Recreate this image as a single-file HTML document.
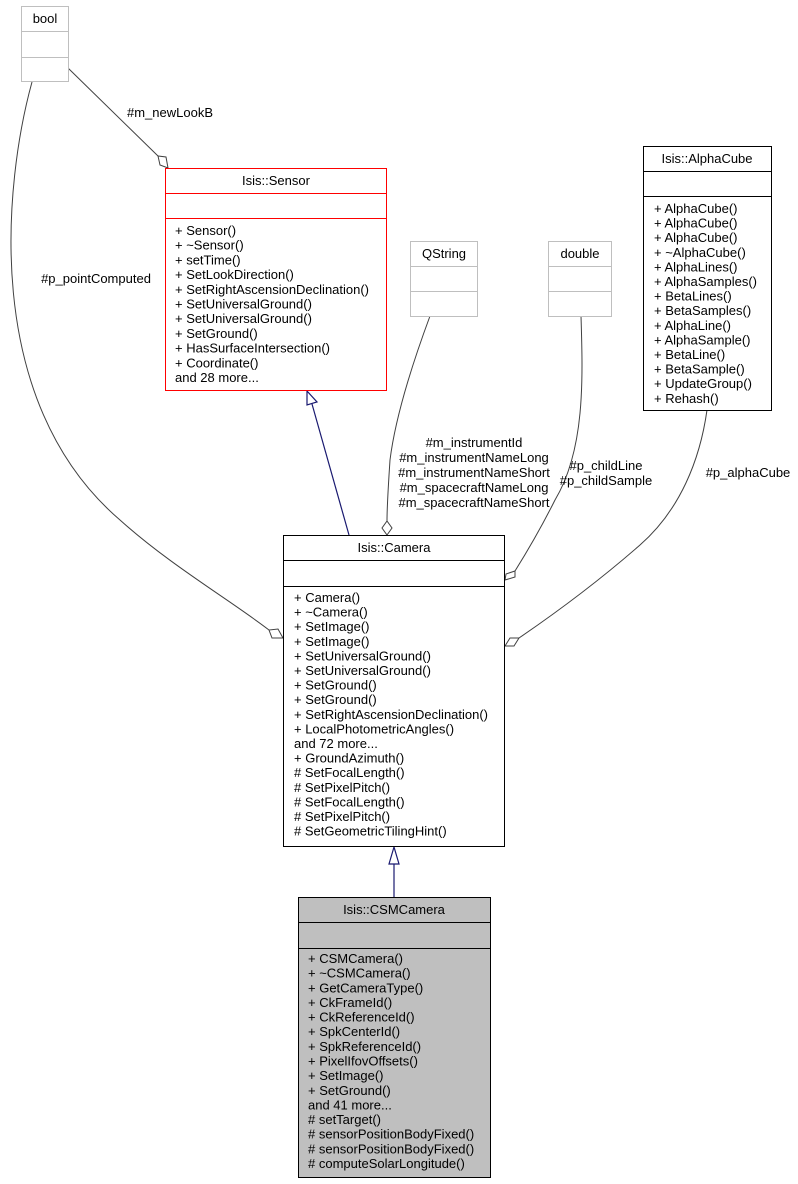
<!DOCTYPE html>
<html><head><meta charset="utf-8"><style>
html,body{margin:0;padding:0;background:#fff}
svg{display:block}
text{font-family:"Liberation Sans",Arial,sans-serif;font-size:13px;fill:#000}
</style></head><body>
<svg width="798" height="1184" viewBox="0 0 798 1184" xmlns="http://www.w3.org/2000/svg">
<!-- edges -->
<g fill="none" stroke="#404040" stroke-width="1">
<path d="M68,68 L158,156"/>
<path d="M32,82 C5,180 -20,400 120,520 C170,565 230,600 269,630"/>
<path d="M430,316 C410,370 395,420 390,460 C388,490 387,505 387,521"/>
<path d="M581,316 C583,380 585,450 555,500 C540,530 525,555 515,571"/>
<path d="M707,410 C700,460 680,510 640,545 C600,580 560,610 519,638"/>
</g>
<g fill="#fff" stroke="#404040" stroke-width="1">
<polygon points="168,168 166,157 158,156 160,165"/>
<polygon points="283,638 278,629 269,630 272,638"/>
<polygon points="387,535 392,528 387,521 382,528"/>
<polygon points="505,580 515,577 515,571 506,574"/>
<polygon points="505,646 514,646 519,638 510,638"/>
</g>
<g stroke="#191970" stroke-width="1.2" fill="none">
<path d="M349,535 L312,404"/>
<path d="M394,897 L394,864"/>
</g>
<g stroke="#191970" stroke-width="1.2" fill="#fff">
<polygon points="307,391 317,402 307,405"/>
<polygon points="394,847 389,864 399,864"/>
</g>
<!-- labels -->
<text x="170" y="117" text-anchor="middle">#m_newLookB</text>
<text x="96" y="283" text-anchor="middle">#p_pointComputed</text>
<g text-anchor="middle">
<text x="474" y="447">#m_instrumentId</text>
<text x="474" y="462">#m_instrumentNameLong</text>
<text x="474" y="477">#m_instrumentNameShort</text>
<text x="474" y="492">#m_spacecraftNameLong</text>
<text x="474" y="507">#m_spacecraftNameShort</text>
<text x="606" y="470">#p_childLine</text>
<text x="606" y="485">#p_childSample</text>
<text x="748" y="477">#p_alphaCube</text>
</g>
<!-- bool -->
<g stroke="#bfbfbf" fill="#fff"><rect x="21.5" y="6.5" width="47" height="75"/><path d="M21.5,31.5H68.5M21.5,57.5H68.5"/></g>
<text x="45" y="23" text-anchor="middle">bool</text>
<!-- QString -->
<g stroke="#bfbfbf" fill="#fff"><rect x="410.5" y="241.5" width="67" height="75"/><path d="M410.5,266.5H477.5M410.5,291.5H477.5"/></g>
<text x="444" y="258" text-anchor="middle">QString</text>
<!-- double -->
<g stroke="#bfbfbf" fill="#fff"><rect x="548.5" y="241.5" width="63" height="75"/><path d="M548.5,266.5H611.5M548.5,291.5H611.5"/></g>
<text x="580" y="258" text-anchor="middle">double</text>
<!-- Sensor -->
<g stroke="#ff0000" fill="#fff"><rect x="165.5" y="168.5" width="221" height="222"/><path d="M165.5,193.5H386.5M165.5,218.5H386.5"/></g>
<text x="276" y="185" text-anchor="middle">Isis::Sensor</text>
<g>
<text x="175" y="235">+ Sensor()</text>
<text x="175" y="249.7">+ ~Sensor()</text>
<text x="175" y="264.4">+ setTime()</text>
<text x="175" y="279.1">+ SetLookDirection()</text>
<text x="175" y="293.8">+ SetRightAscensionDeclination()</text>
<text x="175" y="308.5">+ SetUniversalGround()</text>
<text x="175" y="323.2">+ SetUniversalGround()</text>
<text x="175" y="337.9">+ SetGround()</text>
<text x="175" y="352.6">+ HasSurfaceIntersection()</text>
<text x="175" y="367.3">+ Coordinate()</text>
<text x="175" y="382">and 28 more...</text>
</g>
<!-- AlphaCube -->
<g stroke="#000" fill="#fff"><rect x="643.5" y="146.5" width="128" height="264"/><path d="M643.5,171.5H771.5M643.5,196.5H771.5"/></g>
<text x="707" y="163" text-anchor="middle">Isis::AlphaCube</text>
<g>
<text x="654" y="213">+ AlphaCube()</text>
<text x="654" y="227.6">+ AlphaCube()</text>
<text x="654" y="242.2">+ AlphaCube()</text>
<text x="654" y="256.8">+ ~AlphaCube()</text>
<text x="654" y="271.4">+ AlphaLines()</text>
<text x="654" y="286">+ AlphaSamples()</text>
<text x="654" y="300.6">+ BetaLines()</text>
<text x="654" y="315.2">+ BetaSamples()</text>
<text x="654" y="329.8">+ AlphaLine()</text>
<text x="654" y="344.4">+ AlphaSample()</text>
<text x="654" y="359">+ BetaLine()</text>
<text x="654" y="373.6">+ BetaSample()</text>
<text x="654" y="388.2">+ UpdateGroup()</text>
<text x="654" y="402.8">+ Rehash()</text>
</g>
<!-- Camera -->
<g stroke="#000" fill="#fff"><rect x="283.5" y="535.5" width="221" height="311"/><path d="M283.5,560.5H504.5M283.5,586.5H504.5"/></g>
<text x="394" y="552" text-anchor="middle">Isis::Camera</text>
<g>
<text x="294" y="602">+ Camera()</text>
<text x="294" y="616.6">+ ~Camera()</text>
<text x="294" y="631.2">+ SetImage()</text>
<text x="294" y="645.8">+ SetImage()</text>
<text x="294" y="660.4">+ SetUniversalGround()</text>
<text x="294" y="675">+ SetUniversalGround()</text>
<text x="294" y="689.6">+ SetGround()</text>
<text x="294" y="704.2">+ SetGround()</text>
<text x="294" y="718.8">+ SetRightAscensionDeclination()</text>
<text x="294" y="733.4">+ LocalPhotometricAngles()</text>
<text x="294" y="748">and 72 more...</text>
<text x="294" y="762.6">+ GroundAzimuth()</text>
<text x="294" y="777.2"># SetFocalLength()</text>
<text x="294" y="791.8"># SetPixelPitch()</text>
<text x="294" y="806.4"># SetFocalLength()</text>
<text x="294" y="821"># SetPixelPitch()</text>
<text x="294" y="835.6"># SetGeometricTilingHint()</text>
</g>
<!-- CSMCamera -->
<g stroke="#000" fill="#bfbfbf"><rect x="298.5" y="897.5" width="192" height="280"/><path d="M298.5,922.5H490.5M298.5,948.5H490.5"/></g>
<text x="394" y="914" text-anchor="middle">Isis::CSMCamera</text>
<g>
<text x="308" y="963">+ CSMCamera()</text>
<text x="308" y="977.6">+ ~CSMCamera()</text>
<text x="308" y="992.3">+ GetCameraType()</text>
<text x="308" y="1006.9">+ CkFrameId()</text>
<text x="308" y="1021.6">+ CkReferenceId()</text>
<text x="308" y="1036.2">+ SpkCenterId()</text>
<text x="308" y="1050.8">+ SpkReferenceId()</text>
<text x="308" y="1065.5">+ PixelIfovOffsets()</text>
<text x="308" y="1080.1">+ SetImage()</text>
<text x="308" y="1094.8">+ SetGround()</text>
<text x="308" y="1109.4">and 41 more...</text>
<text x="308" y="1124"># setTarget()</text>
<text x="308" y="1138.7"># sensorPositionBodyFixed()</text>
<text x="308" y="1153.3"># sensorPositionBodyFixed()</text>
<text x="308" y="1168"># computeSolarLongitude()</text>
</g>
</svg>
</body></html>
